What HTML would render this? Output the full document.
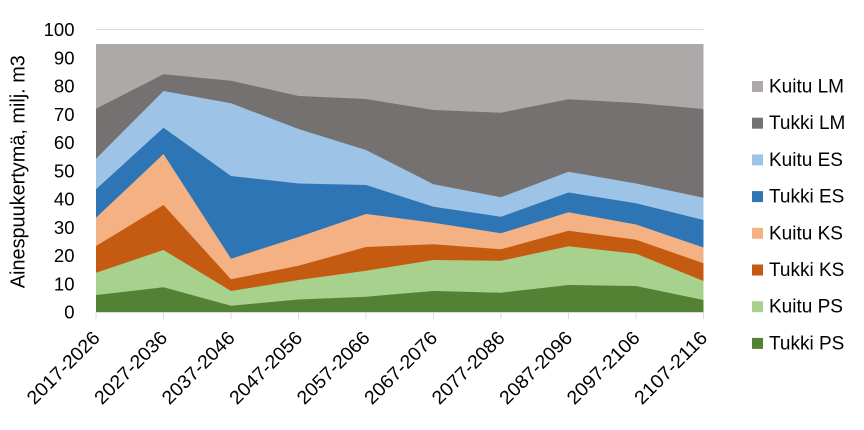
<!DOCTYPE html>
<html><head><meta charset="utf-8"><style>
html,body{margin:0;padding:0;background:#fff;}
svg{display:block;}
text{font-family:"Liberation Sans",sans-serif;fill:#000;}
</style></head><body>
<svg width="864" height="430" viewBox="0 0 864 430" xmlns="http://www.w3.org/2000/svg">
<rect width="864" height="430" fill="#fff"/>
<!-- gridline 100 -->
<line x1="96" y1="29.5" x2="703.5" y2="29.5" stroke="#d9d9d9" stroke-width="1"/>
<!-- areas -->
<rect x="96" y="44" width="607.5" height="268" fill="#AEA9A9"/>
<polygon fill="#767171" points="96,108.7 163.5,74.3 231,80.7 298.5,96 366,99 433.5,110 501,112.7 568.5,99.3 636,103 703.5,109 703.5,312 96,312"/>
<polygon fill="#9DC3E6" points="96,158.7 163.5,91 231,103.3 298.5,129 366,150 433.5,184.3 501,197.3 568.5,171.7 636,183.5 703.5,197.8 703.5,312 96,312"/>
<polygon fill="#2E75B6" points="96,189.3 163.5,127.7 231,176 298.5,183.5 366,185 433.5,206.7 501,216.7 568.5,192.5 636,203.3 703.5,220 703.5,312 96,312"/>
<polygon fill="#F4B183" points="96,217.7 163.5,154 231,258.7 298.5,237 366,214 433.5,222.7 501,233.3 568.5,212.2 636,224.5 703.5,247.5 703.5,312 96,312"/>
<polygon fill="#C55A11" points="96,246 163.5,205 231,279.3 298.5,265.7 366,247 433.5,244.3 501,249.3 568.5,230.7 636,239.7 703.5,263.3 703.5,312 96,312"/>
<polygon fill="#A9D18E" points="96,272.7 163.5,250 231,291 298.5,280 366,270.7 433.5,260 501,260.7 568.5,246.3 636,253.7 703.5,281 703.5,312 96,312"/>
<polygon fill="#548235" points="96,295 163.5,287.3 231,305.7 298.5,299.5 366,296.7 433.5,291 501,292.7 568.5,285 636,286 703.5,300 703.5,312 96,312"/>
<!-- x axis -->
<line x1="96" y1="312.5" x2="703.5" y2="312.5" stroke="#d9d9d9" stroke-width="1"/>
<g stroke="#d9d9d9" stroke-width="1">
<line x1="96" y1="312" x2="96" y2="319"/>
<line x1="163.5" y1="312" x2="163.5" y2="319"/>
<line x1="231" y1="312" x2="231" y2="319"/>
<line x1="298.5" y1="312" x2="298.5" y2="319"/>
<line x1="366" y1="312" x2="366" y2="319"/>
<line x1="433.5" y1="312" x2="433.5" y2="319"/>
<line x1="501" y1="312" x2="501" y2="319"/>
<line x1="568.5" y1="312" x2="568.5" y2="319"/>
<line x1="636" y1="312" x2="636" y2="319"/>
<line x1="703.5" y1="312" x2="703.5" y2="319"/>
</g>
<!-- y tick labels -->
<g font-size="18.5" text-anchor="end">
<text x="74.5" y="36.2">100</text>
<text x="74.5" y="64.4">90</text>
<text x="74.5" y="92.6">80</text>
<text x="74.5" y="120.9">70</text>
<text x="74.5" y="149.1">60</text>
<text x="74.5" y="177.4">50</text>
<text x="74.5" y="205.6">40</text>
<text x="74.5" y="233.8">30</text>
<text x="74.5" y="262.1">20</text>
<text x="74.5" y="290.3">10</text>
<text x="74.5" y="318.6">0</text>
</g>
<!-- y axis title -->
<text transform="translate(24.5,171.7) rotate(-90)" font-size="20" text-anchor="middle" textLength="233" lengthAdjust="spacingAndGlyphs">Ainespuukertymä, milj. m3</text>
<!-- x labels -->
<g font-size="19" text-anchor="end">
<text transform="translate(101,339) rotate(-45)" textLength="94" lengthAdjust="spacingAndGlyphs">2017-2026</text>
<text transform="translate(168.5,339) rotate(-45)" textLength="94" lengthAdjust="spacingAndGlyphs">2027-2036</text>
<text transform="translate(236,339) rotate(-45)" textLength="94" lengthAdjust="spacingAndGlyphs">2037-2046</text>
<text transform="translate(303.5,339) rotate(-45)" textLength="94" lengthAdjust="spacingAndGlyphs">2047-2056</text>
<text transform="translate(371,339) rotate(-45)" textLength="94" lengthAdjust="spacingAndGlyphs">2057-2066</text>
<text transform="translate(438.5,339) rotate(-45)" textLength="94" lengthAdjust="spacingAndGlyphs">2067-2076</text>
<text transform="translate(506,339) rotate(-45)" textLength="94" lengthAdjust="spacingAndGlyphs">2077-2086</text>
<text transform="translate(573.5,339) rotate(-45)" textLength="94" lengthAdjust="spacingAndGlyphs">2087-2096</text>
<text transform="translate(641,339) rotate(-45)" textLength="94" lengthAdjust="spacingAndGlyphs">2097-2106</text>
<text transform="translate(708.5,339) rotate(-45)" textLength="94" lengthAdjust="spacingAndGlyphs">2107-2116</text>
</g>
<!-- legend -->
<g font-size="19">
<rect x="752" y="81" width="11" height="11" fill="#AEA9A9"/>
<text x="769" y="92.5">Kuitu LM</text>
<rect x="752" y="117.7" width="11" height="11" fill="#767171"/>
<text x="769" y="129.2">Tukki LM</text>
<rect x="752" y="154.4" width="11" height="11" fill="#9DC3E6"/>
<text x="769" y="165.9">Kuitu ES</text>
<rect x="752" y="191.1" width="11" height="11" fill="#2E75B6"/>
<text x="769" y="202.6">Tukki ES</text>
<rect x="752" y="227.8" width="11" height="11" fill="#F4B183"/>
<text x="769" y="239.3">Kuitu KS</text>
<rect x="752" y="264.5" width="11" height="11" fill="#C55A11"/>
<text x="769" y="276">Tukki KS</text>
<rect x="752" y="301.2" width="11" height="11" fill="#A9D18E"/>
<text x="769" y="312.7">Kuitu PS</text>
<rect x="752" y="337.9" width="11" height="11" fill="#548235"/>
<text x="769" y="349.4">Tukki PS</text>
</g>
</svg>
</body></html>
